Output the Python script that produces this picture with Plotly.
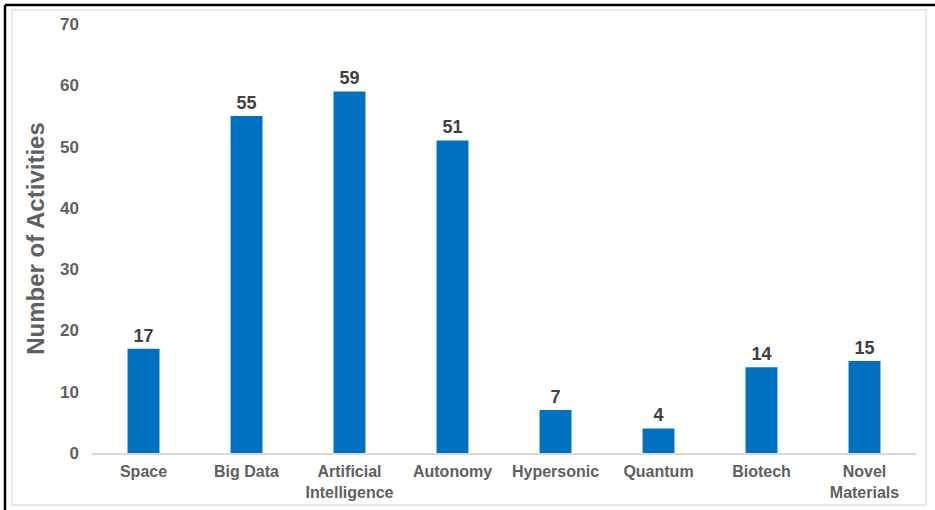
import plotly.graph_objects as go

categories = ["Space", "Big Data", "Artificial<br>Intelligence", "Autonomy",
              "Hypersonic", "Quantum", "Biotech", "Novel<br>Materials"]
values = [17, 55, 59, 51, 7, 4, 14, 15]
y_ticks = [0, 10, 20, 30, 40, 50, 60, 70]

W, H = 935, 510
fig = go.Figure(go.Bar(
    x=categories, y=values,
    marker=dict(color="#0070C0", line=dict(width=0)),
    width=0.31,
    text=[str(v) for v in values],
    textposition="outside",
    cliponaxis=False,
    textfont=dict(family="Liberation Sans, Arial", size=18, color="#404040", weight="bold"),
))

PW, PH = W - 92 - 19, 453 - 24
def px(x):
    return (x - 92) / PW
def py(y):
    return (453 - y) / PH

fig.update_layout(
    width=W, height=H,
    margin=dict(l=92, r=19, t=24, b=57),
    paper_bgcolor="white", plot_bgcolor="white",
    showlegend=False,
    font=dict(family="Liberation Sans, Arial", color="#595959"),
    yaxis=dict(
        range=[0, 70], tickvals=y_ticks, showgrid=False, zeroline=False,
        showline=False, ticks="", ticklen=0, ticklabelstandoff=12,
        automargin=False,
        tickfont=dict(size=17, color="#606060", weight="bold"),
        title=dict(text="Number of Activities", standoff=8,
                   font=dict(size=24, color="#606060", weight="bold")),
    ),
    xaxis=dict(
        showgrid=False, showline=True, linecolor="#D9D9D9", linewidth=1.5,
        ticks="", ticklabelstandoff=3, automargin=False,
        tickfont=dict(size=16, color="#606060", weight="bold"),
    ),
    shapes=[
        # inner light frame
        dict(type="rect", xref="paper", yref="paper",
             x0=px(12), x1=px(926), y0=py(505), y1=py(10),
             line=dict(color="#E8E8E8", width=2), layer="below"),
        # outer black border: top and left
        dict(type="line", xref="paper", yref="paper",
             x0=px(5), x1=px(935), y0=py(5), y1=py(5),
             line=dict(color="black", width=2.5)),
        dict(type="line", xref="paper", yref="paper",
             x0=px(5), x1=px(5), y0=py(5), y1=py(512),
             line=dict(color="black", width=2.5)),
    ],
)

fig.write_html("out.html")
